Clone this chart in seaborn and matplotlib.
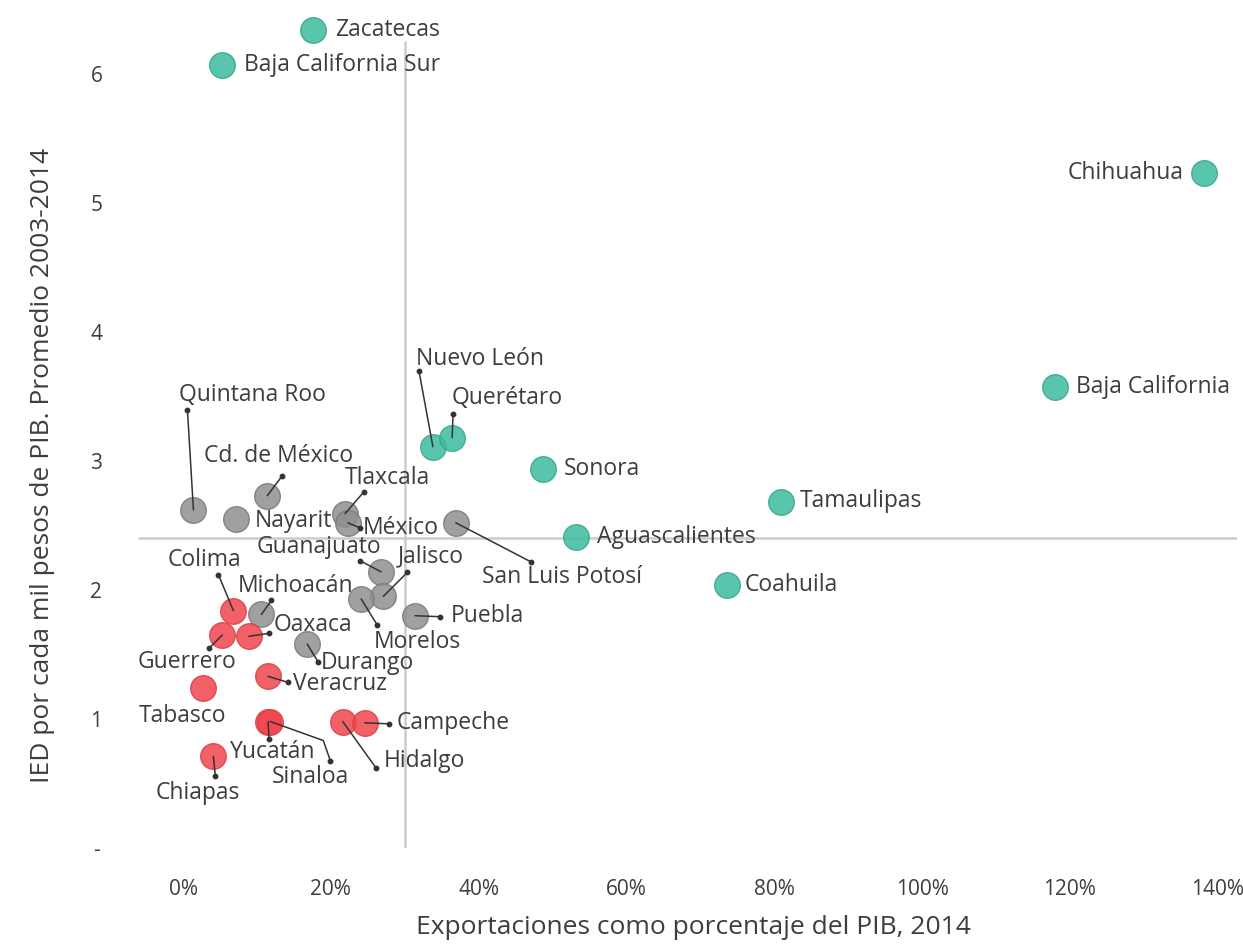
import numpy as np
import pandas as pd
import matplotlib
matplotlib.use("Agg")
import matplotlib.pyplot as plt
import seaborn as sns

# ---------------- data ----------------
estados = ["Zacatecas", "Baja California Sur", "Chihuahua", "Baja California", "Nuevo León",
           "Querétaro", "Sonora", "Aguascalientes", "Tamaulipas", "Coahuila",
           "Quintana Roo", "Cd. de México", "Nayarit", "Tlaxcala", "México", "San Luis Potosí",
           "Guanajuato", "Jalisco", "Morelos", "Puebla", "Michoacán", "Durango",
           "Colima", "Guerrero", "Oaxaca", "Veracruz", "Tabasco", "Yucatán", "Sinaloa",
           "Hidalgo", "Campeche", "Chiapas"]
exportaciones = [17.6, 5.3, 138.1, 118.0, 33.8,
                 36.4, 48.7, 53.2, 80.9, 73.6,
                 1.4, 11.4, 7.2, 21.9, 22.3, 36.9,
                 26.8, 27.1, 24.1, 31.4, 10.6, 16.8,
                 6.8, 5.3, 8.9, 11.5, 2.7, 11.5, 11.8,
                 21.6, 24.6, 4.1]
ied = [6.34, 6.07, 5.23, 3.57, 3.11,
       3.18, 2.94, 2.41, 2.68, 2.04,
       2.62, 2.73, 2.55, 2.59, 2.52, 2.52,
       2.14, 1.95, 1.93, 1.80, 1.81, 1.58,
       1.84, 1.65, 1.64, 1.33, 1.24, 0.98, 0.98,
       0.98, 0.97, 0.71]
grupo = ["alto"] * 10 + ["medio"] * 12 + ["bajo"] * 10
x_ticks = [0, 20, 40, 60, 80, 100, 120, 140]
y_ticks = [0, 1, 2, 3, 4, 5, 6]
y_tick_labels = ["-", "1", "2", "3", "4", "5", "6"]
ref_x = 30
ref_y = 2.4

df = pd.DataFrame({"estado": estados, "exp": exportaciones, "ied": ied, "grupo": grupo})

# ---------------- layout of labels (pixel offsets from point) ----------------
# name: (text dx, text dy, ha, leader path [(dx,dy), ...] or None); dy positive = down
layout = {
    "Zacatecas": (22, 0, "left", None),
    "Baja California Sur": (22, 0, "left", None),
    "Chihuahua": (-20, 0, "right", None),
    "Baja California": (21, 0, "left", None),
    "Nuevo León": (-17, -88, "left", [(-14, -76)]),
    "Querétaro": (0, -40, "left", [(1, -24)]),
    "Sonora": (21, 0, "left", None),
    "Aguascalientes": (21, 0, "left", None),
    "Tamaulipas": (19, -1, "left", None),
    "Coahuila": (18, 0, "left", None),
    "Quintana Roo": (-14, -115, "left", [(-6, -100)]),
    "Cd. de México": (-63, -40, "left", [(15, -20)]),
    "Nayarit": (18, 2, "left", None),
    "Tlaxcala": (0, -36, "left", [(19, -22)]),
    "México": (15, 5, "left", [(12, 5)]),
    "San Luis Potosí": (26, 54, "left", [(75, 39)]),
    "Guanajuato": (-62, -25, "center", [(-21, -11)]),
    "Jalisco": (14, -40, "left", [(24, -24)]),
    "Morelos": (13, 43, "left", [(16, 26)]),
    "Puebla": (36, 0, "left", [(25, 1)]),
    "Michoacán": (-24, -28, "left", [(10, -14)]),
    "Durango": (14, 19, "left", [(11, 18)]),
    "Colima": (-29, -51, "center", [(-15, -36)]),
    "Guerrero": (-35, 27, "center", [(-13, 13)]),
    "Oaxaca": (25, -11, "left", [(20, -3)]),
    "Veracruz": (25, 8, "left", [(20, 6)]),
    "Tabasco": (-21, 28, "center", None),
    "Yucatán": (5, 30, "center", [(1, 17)]),
    "Sinaloa": (40, 55, "center", [(53, 19), (60, 39)]),
    "Hidalgo": (41, 39, "left", [(33, 46)]),
    "Campeche": (32, 0, "left", [(24, 1)]),
    "Chiapas": (-16, 37, "center", [(2, 20)]),
}

# ---------------- style ----------------
sns.set_theme(style="white")
plt.rcParams["font.family"] = ["Open Sans", "DejaVu Sans"]
text_color = "#3d3d3d"
palette = {"alto": "#3dbb9f", "medio": "#8f8f8f", "bajo": "#f0454d"}
edges = {"alto": "#37a68d", "medio": "#7a7a7a", "bajo": "#d94048"}

fig = plt.figure(figsize=(12.43, 9.44), dpi=100)
ax = fig.add_axes([138 / 1243, 1 - 848 / 944, (1237 - 138) / 1243, (848 - 15.6) / 944])
ax.set_xlim(-6.1, 142.6)
ax.set_ylim(0, 6.45)

# reference lines
ax.plot([ref_x, ref_x], [0, 6.25], color="#cccccc", lw=1.8, zorder=1, solid_capstyle="butt")
ax.plot([-6.1, 142.6], [ref_y, ref_y], color="#cccccc", lw=1.8, zorder=1, solid_capstyle="butt")

for g in ["medio", "alto", "bajo"]:
    sub = df[df["grupo"] == g]
    sns.scatterplot(data=sub, x="exp", y="ied", ax=ax, color=palette[g], s=340,
                    alpha=0.85, edgecolor=edges[g], linewidth=1.0, zorder=3,
                    legend=False, clip_on=False)

# labels and leader lines
fig.canvas.draw()
to_px = ax.transData.transform
to_data = ax.transData.inverted().transform
for name, xv, yv in zip(estados, exportaciones, ied):
    tdx, tdy, ha, path = layout[name]
    ax.annotate(name, xy=(xv, yv), xytext=(tdx, -tdy), textcoords="offset pixels",
                ha=ha, va="center", fontsize=16.5, color=text_color, zorder=5,
                annotation_clip=False)
    if path:
        p0 = to_px((xv, yv))
        pts = [p0] + [p0 + np.array([dx, -dy]) for dx, dy in path]
        pts_d = np.array([to_data(p) for p in pts])
        ax.plot(pts_d[:, 0], pts_d[:, 1], color="#333333", lw=1.1, zorder=4,
                clip_on=False)
        ax.plot([pts_d[-1, 0]], [pts_d[-1, 1]], "o", color="#333333", ms=3.2,
                zorder=4, clip_on=False)

# axes
for s in ax.spines.values():
    s.set_visible(False)
ax.set_xticks(x_ticks)
ax.set_xticklabels([f"{v}%" for v in x_ticks])
ax.set_yticks(y_ticks)
ax.set_yticklabels(y_tick_labels)
ax.tick_params(axis="x", length=0, pad=22, labelsize=15, labelcolor=text_color)
ax.tick_params(axis="y", length=0, pad=30, labelsize=15, labelcolor=text_color)
for lbl in ax.get_yticklabels():
    lbl.set_horizontalalignment("center")

ax.set_xlabel("Exportaciones como porcentaje del PIB, 2014", fontsize=19, color=text_color)
ax.set_ylabel("IED por cada mil pesos de PIB. Promedio 2003-2014", fontsize=19, color=text_color)
ax.xaxis.set_label_coords(0.505, -0.096)
ax.xaxis.label.set_va("center")
ax.yaxis.set_label_coords(-0.087, 0.459)
ax.yaxis.label.set_va("center")
ax.grid(False)

fig.savefig("out.png", dpi=100, facecolor="white")
